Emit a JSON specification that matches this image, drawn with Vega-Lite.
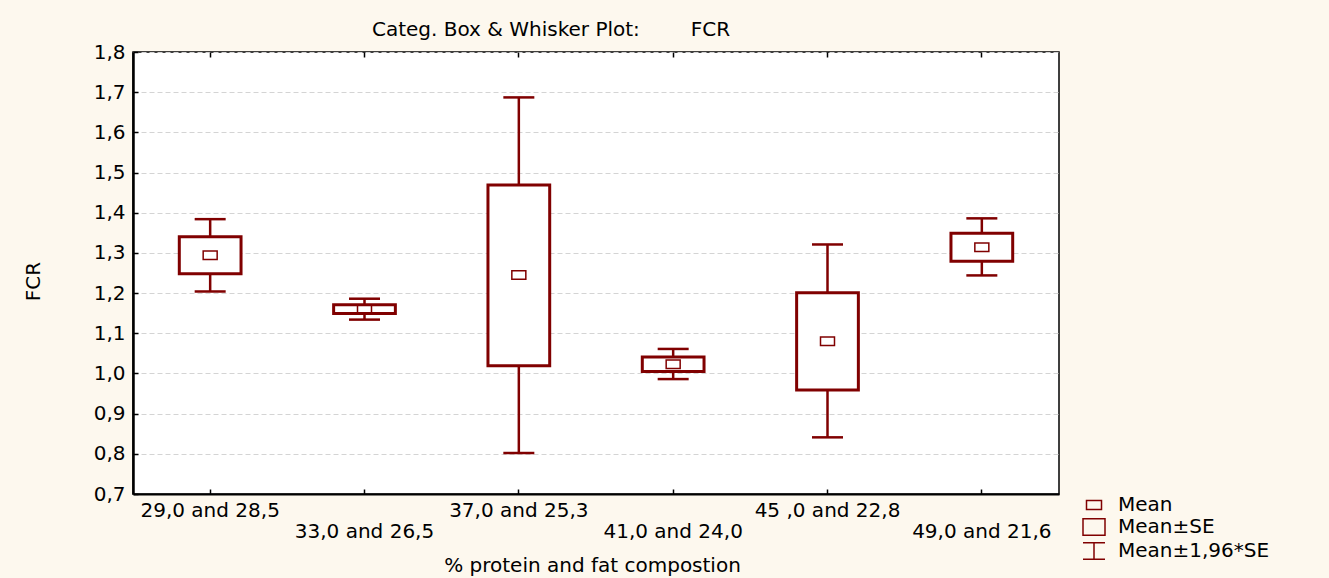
{
  "$schema": "https://vega.github.io/schema/vega-lite/v6.json",
  "autosize": {"type": "none"},
  "padding": {"left": 133, "top": 52, "right": 270, "bottom": 84},
  "width": 926,
  "height": 442,
  "background": "#fdf8ee",
  "title": {
    "text": "Categ. Box & Whisker Plot:\u00a0\u00a0\u00a0\u00a0\u00a0\u00a0\u00a0\u00a0FCR",
    "anchor": "middle",
    "dx": -45,
    "offset": 2,
    "font": "DejaVu Sans",
    "fontSize": 20,
    "fontWeight": "normal",
    "color": "black"
  },
  "config": {
    "font": "DejaVu Sans",
    "view": {"fill": "white", "stroke": "black", "strokeWidth": 1.5},
    "axis": {
      "labelFont": "DejaVu Sans",
      "labelFontSize": 20,
      "labelColor": "black",
      "titleFont": "DejaVu Sans",
      "titleFontSize": 20,
      "titleFontWeight": "normal",
      "titleColor": "black",
      "domainColor": "black",
      "domainWidth": 2,
      "tickColor": "black",
      "tickWidth": 1.5
    }
  },
  "data": {
    "values": [
      {"group": "29,0 and 28,5", "stat": "Mean", "mean": 1.294, "seLo": 1.248, "seHi": 1.340, "ciLo": 1.204, "ciHi": 1.384},
      {"group": "33,0 and 26,5", "stat": "Mean", "mean": 1.160, "seLo": 1.149, "seHi": 1.171, "ciLo": 1.134, "ciHi": 1.186},
      {"group": "37,0 and 25,3", "stat": "Mean", "mean": 1.245, "seLo": 1.019, "seHi": 1.469, "ciLo": 0.802, "ciHi": 1.687},
      {"group": "41,0 and 24,0", "stat": "Mean", "mean": 1.023, "seLo": 1.005, "seHi": 1.041, "ciLo": 0.986, "ciHi": 1.061},
      {"group": "45 ,0 and 22,8", "stat": "Mean", "mean": 1.080, "seLo": 0.959, "seHi": 1.201, "ciLo": 0.841, "ciHi": 1.321},
      {"group": "49,0 and 21,6", "stat": "Mean", "mean": 1.314, "seLo": 1.279, "seHi": 1.349, "ciLo": 1.244, "ciHi": 1.386}
    ]
  },
  "encoding": {
    "x": {
      "field": "group",
      "type": "nominal",
      "sort": null,
      "axis": null,
      "scale": {"paddingInner": 0, "paddingOuter": 0}
    }
  },
  "layer": [
    {
      "mark": {"type": "rule", "color": "#800000", "strokeWidth": 2.5},
      "encoding": {
        "x": {
          "field": "group",
          "type": "nominal",
          "sort": null,
          "title": "% protein and fat compostion",
          "axis": {
            "orient": "bottom",
            "labelAngle": 0,
            "tickSize": -5,
            "labelPadding": {
              "condition": {"test": "indexof(['33,0 and 26,5', '41,0 and 24,0', '49,0 and 21,6'], datum.value) >= 0", "value": 32},
              "value": 11
            },
            "titleX": 459,
            "titleY": 71,
            "titleBaseline": "middle",
            "titleAlign": "center"
          }
        },
        "y": {
          "field": "ciLo",
          "type": "quantitative",
          "title": "FCR",
          "scale": {"domain": [0.7, 1.8], "nice": false, "zero": false},
          "axis": {
            "values": [0.7, 0.8, 0.9, 1.0, 1.1, 1.2, 1.3, 1.4, 1.5, 1.6, 1.7, 1.8],
            "labelExpr": "replace(format(datum.value, '.1f'), '.', ',')",
            "tickSize": -5,
            "labelPadding": 13,
            "domainWidth": 2.5,
            "grid": true,
            "gridColor": "#d4d4d4",
            "gridDash": [5, 3],
            "gridWidth": 1,
            "titleX": -100,
            "titleY": 229,
            "titleAngle": -90,
            "titleAlign": "center",
            "titleBaseline": "middle"
          }
        },
        "y2": {"field": "ciHi"}
      }
    },
    {
      "mark": {"type": "tick", "color": "#800000", "thickness": 2.5, "size": 31, "opacity": 1},
      "encoding": {
        "x": {
          "field": "group",
          "type": "nominal",
          "sort": null,
          "title": null,
          "axis": {"orient": "top", "labels": false, "domain": false, "tickSize": -5, "title": null}
        },
        "y": {"field": "ciHi", "type": "quantitative", "title": "FCR"}
      }
    },
    {
      "mark": {"type": "tick", "color": "#800000", "thickness": 2.5, "size": 31, "opacity": 1},
      "encoding": {
        "y": {"field": "ciLo", "type": "quantitative", "title": "FCR"}
      }
    },
    {
      "mark": {"type": "rect", "fill": "white", "stroke": "#800000", "strokeWidth": 3, "width": {"band": 0.4}},
      "encoding": {
        "y": {"field": "seLo", "type": "quantitative", "title": "FCR"},
        "y2": {"field": "seHi"}
      }
    },
    {
      "mark": {"type": "point", "filled": false, "color": "#800000", "strokeWidth": 1.5, "opacity": 1, "size": 348},
      "encoding": {
        "y": {"field": "mean", "type": "quantitative", "title": "FCR"},
        "shape": {
          "field": "stat",
          "type": "nominal",
          "title": null,
          "scale": {
            "domain": ["Mean", "Mean\u00b1SE", "Mean\u00b11,96*SE"],
            "range": [
              "M-0.75,-0.46H0.75V0.46H-0.75Z",
              "M-1.1,-0.82H1.1V0.82H-1.1Z",
              "M-1.1,-0.82H1.1M0,-0.82V0.82M-1.1,0.82H1.1"
            ]
          },
          "legend": {
            "orient": "none",
            "legendX": 950,
            "legendY": 442,
            "padding": 0,
            "symbolSize": 400,
            "symbolStrokeColor": "#800000",
            "symbolStrokeWidth": 1.5,
            "symbolOpacity": 1,
            "labelFont": "DejaVu Sans",
            "labelFontSize": 20,
            "labelColor": "black",
            "labelOffset": 13,
            "rowPadding": 0,
            "encode": {
              "symbols": {
                "update": {
                  "strokeWidth": [
                    {"test": "datum.value === 'Mean\u00b1SE'", "value": 3},
                    {"test": "datum.value === 'Mean\u00b11,96*SE'", "value": 2},
                    {"value": 1.5}
                  ]
                }
              }
            }
          }
        }
      }
    }
  ]
}
